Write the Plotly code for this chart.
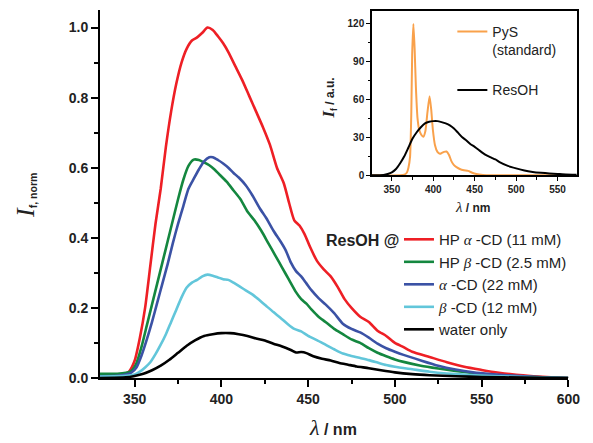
import plotly.graph_objects as go

# ---------------- data ----------------
red_nm = [330, 340, 345, 347, 350, 353, 356, 359, 362, 365, 368, 371, 374, 377, 380, 383, 386, 389, 392,
          395, 398, 401, 404, 408, 412, 416, 420, 424, 428, 432, 436, 439, 442, 445, 448, 451, 455, 459,
          463, 467, 471, 475, 480, 485, 490, 495, 500, 505, 510, 520, 530, 540, 550, 560, 570, 580, 590, 600]
red_i = [0.008, 0.009, 0.013, 0.02, 0.05, 0.115, 0.20, 0.32, 0.44, 0.54, 0.66, 0.76, 0.84, 0.90, 0.94, 0.963,
         0.972, 0.985, 1.0, 0.993, 0.975, 0.955, 0.93, 0.89, 0.85, 0.805, 0.76, 0.715, 0.665, 0.60, 0.555,
         0.50, 0.45, 0.435, 0.41, 0.375, 0.335, 0.31, 0.29, 0.26, 0.225, 0.20, 0.175, 0.16, 0.135, 0.12,
         0.10, 0.088, 0.075, 0.06, 0.045, 0.032, 0.023, 0.015, 0.009, 0.005, 0.002, 0.0]

green_nm = [330, 340, 345, 348, 351, 354, 357, 360, 363, 366, 369, 372, 375, 378, 381, 384, 387, 390, 393,
            396, 399, 403, 407, 411, 415, 419, 423, 427, 431, 435, 439, 443, 446, 449, 452, 456, 460, 465,
            470, 475, 480, 485, 490, 495, 500, 505, 515, 525, 535, 545, 555, 570, 585, 600]
green_i = [0.012, 0.012, 0.015, 0.02, 0.042, 0.09, 0.15, 0.21, 0.27, 0.33, 0.39, 0.45, 0.51, 0.565, 0.605,
           0.623, 0.622, 0.615, 0.607, 0.595, 0.58, 0.56, 0.535, 0.51, 0.475, 0.45, 0.42, 0.385, 0.35, 0.315,
           0.28, 0.245, 0.225, 0.212, 0.195, 0.175, 0.16, 0.14, 0.125, 0.11, 0.10, 0.085, 0.072, 0.062, 0.053,
           0.046, 0.035, 0.027, 0.02, 0.014, 0.009, 0.005, 0.002, 0.0]

blue_nm = [330, 340, 345, 348, 351, 354, 357, 360, 363, 366, 369, 372, 375, 378, 381, 384, 387, 390, 393,
           395, 398, 401, 404, 407, 410, 414, 418, 422, 426, 430, 434, 437, 440, 443, 446, 449, 452, 456,
           460, 465, 470, 475, 480, 485, 490, 495, 500, 505, 515, 525, 535, 545, 555, 570, 585, 600]
blue_i = [0.005, 0.006, 0.01, 0.015, 0.03, 0.065, 0.11, 0.16, 0.215, 0.27, 0.325, 0.385, 0.44, 0.49, 0.54,
          0.568, 0.595, 0.618, 0.63, 0.63, 0.622, 0.612, 0.60, 0.585, 0.572, 0.55, 0.52, 0.485, 0.455,
          0.42, 0.39, 0.365, 0.33, 0.305, 0.29, 0.27, 0.25, 0.228, 0.21, 0.185, 0.155, 0.14, 0.13, 0.115,
          0.098, 0.085, 0.075, 0.066, 0.05, 0.035, 0.024, 0.016, 0.011, 0.006, 0.002, 0.0]

cyan_nm = [330, 345, 350, 353, 356, 359, 362, 365, 368, 371, 374, 377, 380, 383, 386, 389, 392, 395, 398,
           401, 404, 407, 410, 414, 418, 422, 426, 430, 434, 438, 442, 446, 450, 455, 460, 465, 470, 475,
           480, 485, 490, 495, 500, 510, 520, 530, 545, 560, 580, 600]
cyan_i = [0.004, 0.006, 0.01, 0.018, 0.03, 0.045, 0.068, 0.095, 0.125, 0.16, 0.195, 0.23, 0.258, 0.272,
          0.28, 0.29, 0.295, 0.292, 0.287, 0.282, 0.28, 0.272, 0.263, 0.25, 0.238, 0.222, 0.205, 0.188,
          0.172, 0.155, 0.14, 0.133, 0.12, 0.108, 0.095, 0.082, 0.07, 0.063, 0.057, 0.051, 0.044, 0.037,
          0.032, 0.025, 0.018, 0.013, 0.008, 0.005, 0.002, 0.0]

water_nm = [330, 345, 350, 355, 360, 365, 370, 375, 380, 385, 390, 395, 400, 405, 410, 415, 420, 425, 430,
            435, 440, 443, 446, 449, 453, 458, 463, 468, 473, 478, 485, 492, 500, 510, 520, 535, 550, 575, 600]
water_i = [0.0, 0.002, 0.006, 0.012, 0.022, 0.035, 0.052, 0.072, 0.092, 0.108, 0.12, 0.125, 0.128, 0.128,
           0.125, 0.12, 0.113, 0.107, 0.098, 0.09, 0.08, 0.073, 0.074, 0.071, 0.062, 0.055, 0.05, 0.043,
           0.038, 0.033, 0.028, 0.022, 0.016, 0.011, 0.008, 0.005, 0.003, 0.001, 0.0]

# inset
resoh_nm = [326, 340, 345, 350, 355, 360, 365, 370, 375, 380, 385, 390, 395, 400, 405, 410, 415, 420, 425,
            430, 435, 440, 445, 450, 455, 460, 465, 470, 475, 480, 490, 500, 510, 520, 530, 540, 550, 560, 573]
resoh_i = [0, 0.3, 1, 2.3, 5, 9.5, 15, 22, 29, 34, 38, 41, 42.3, 42.8, 42.8, 42, 41, 39.5, 37, 33.5, 30,
           27.5, 24.5, 22.5, 20, 17.5, 15.5, 14, 12.5, 10.5, 7.5, 5.5, 3.8, 2.7, 2, 1.5, 1.1, 0.7, 0.5]

pys_nm = [326, 360, 365, 368, 370, 372, 373.5, 374.5, 376, 377.5, 379, 381, 383, 385.5, 388, 390.5, 393,
          395.5, 397.5, 399.5, 402, 405, 408, 410, 413, 416, 419, 422, 425, 428, 432, 437, 442, 447, 452,
          460, 470, 550]
pys_i = [0, 0, 0.5, 2, 6, 15, 50, 95, 119.5, 100, 70, 45, 36, 32, 30.5, 35, 50, 62.5, 52, 36, 24, 18.5, 17,
         17.5, 18.5, 18.8, 16, 11, 8, 6.5, 5, 4, 3.5, 2, 1, 0.3, 0, 0]

SANS = "Liberation Sans, Arial, sans-serif"
SERIF = "Liberation Serif"
ALPHA = "<span style=\"font-family:%s\"><i>α</i></span>" % SERIF
BETA = "<span style=\"font-family:%s\"><i>β</i></span>" % SERIF

main_series = [
    ("HP " + ALPHA + " -CD (11 mM)", red_nm, red_i, "#EE1F25"),
    ("HP " + BETA + " -CD (2.5 mM)", green_nm, green_i, "#14873F"),
    (ALPHA + " -CD (22 mM)", blue_nm, blue_i, "#3B52A5"),
    (BETA + " -CD (12 mM)", cyan_nm, cyan_i, "#62C6DA"),
    ("water only", water_nm, water_i, "#000000"),
]

inset_series = [
    ("PyS<br>(standard)", pys_nm, pys_i, "#F9A14B"),
    ("ResOH", resoh_nm, resoh_i, "#000000"),
]

fig = go.Figure()
for name, xs, ys, col in main_series:
    fig.add_trace(go.Scatter(x=xs, y=ys, mode="lines", name=name,
                             line=dict(color=col, width=2.6, shape="spline", smoothing=0.6),
                             legend="legend"))
for i, (name, xs, ys, col) in enumerate(inset_series):
    fig.add_trace(go.Scatter(x=xs, y=ys, mode="lines", name=name, xaxis="x2", yaxis="y2",
                             line=dict(color=col, width=2, shape="spline", smoothing=0.5),
                             legend="legend2", legendgroup="g%d" % i))

axis_common = dict(showline=True, linecolor="black", ticks="outside", tickcolor="black",
                   showgrid=False, zeroline=False, automargin=False)

fig.update_layout(
    template="none",
    width=593, height=443,
    margin=dict(l=100, r=10, t=10, b=65, pad=0, autoexpand=False),
    plot_bgcolor="white", paper_bgcolor="white",
    font=dict(family=SANS, color="#222222"),
    xaxis=dict(axis_common, domain=[0, 0.9696], range=[330, 600], dtick=50, tick0=350,
               linewidth=2, tickwidth=2, ticklen=7,
               tickfont=dict(family=SANS, size=14, weight="bold", color="#222222"),
               minor=dict(dtick=25, tick0=350, ticks="outside", ticklen=4, tickwidth=2, tickcolor="black")),
    yaxis=dict(axis_common, domain=[0, 1], range=[0, 1.05], dtick=0.2, tickformat=".1f",
               linewidth=2, tickwidth=2, ticklen=7,
               tickfont=dict(family=SANS, size=14, weight="bold", color="#222222"),
               minor=dict(dtick=0.1, ticks="outside", ticklen=4, tickwidth=2, tickcolor="black")),
    xaxis2=dict(axis_common, domain=[0.5631, 0.9876], range=[326, 573.5], anchor="y2",
                dtick=50, tick0=350, mirror=True, linewidth=1.5, tickwidth=1.2, ticklen=4,
                tickfont=dict(family=SANS, size=10, weight="bold", color="#222222"),
                minor=dict(dtick=25, tick0=350, ticks="outside", ticklen=2.5, tickwidth=1, tickcolor="black")),
    yaxis2=dict(axis_common, domain=[0.5508, 0.998], range=[0, 130], anchor="x2",
                dtick=30, mirror=True, linewidth=1.5, tickwidth=1.2, ticklen=4,
                tickfont=dict(family=SANS, size=10, weight="bold", color="#222222"),
                minor=dict(dtick=15, ticks="outside", ticklen=2.5, tickwidth=1, tickcolor="black")),
    legend=dict(x=0.619, y=0.421, xanchor="left", yanchor="top", bgcolor="rgba(0,0,0,0)",
                font=dict(family=SANS, size=15, color="#222222"), tracegroupgap=0,
                itemwidth=30, traceorder="normal"),
    legend2=dict(x=0.7295, y=0.984, xanchor="left", yanchor="top", bgcolor="rgba(0,0,0,0)",
                 font=dict(family=SANS, size=14, color="#222222"), tracegroupgap=19,
                 itemwidth=30, valign="top", traceorder="grouped"),
    showlegend=True,
)

annotations = [
    dict(text="<span style=\"font-family:%s;font-size:26px;font-weight:normal\"><i>I</i></span><sub>f, norm</sub>" % SERIF,
         x=-0.153, y=0.495, xref="paper", yref="paper", xanchor="center", yanchor="middle",
         textangle=-90, showarrow=False,
         font=dict(family=SANS, size=15, weight="bold", color="#222222")),
    dict(text="<span style=\"font-family:%s;font-size:22px;font-weight:normal\"><i>λ</i></span> / nm" % SERIF,
         x=0.482, y=-0.135, xref="paper", yref="paper", xanchor="center", yanchor="middle",
         showarrow=False, font=dict(family=SANS, size=16, weight="bold", color="#222222")),
    dict(text="<span style=\"font-family:%s;font-size:15px;font-weight:normal\"><i>λ</i></span> / nm" % SERIF,
         x=0.772, y=0.465, xref="paper", yref="paper", xanchor="center", yanchor="middle",
         showarrow=False, font=dict(family=SANS, size=12, weight="bold", color="#222222")),
    dict(text="<span style=\"font-family:%s;font-size:17px\"><i>I</i></span><sub>f</sub> / a.u." % SERIF,
         x=0.474, y=0.762, xref="paper", yref="paper", xanchor="center", yanchor="middle",
         textangle=-90, showarrow=False,
         font=dict(family=SANS, size=12, weight="bold", color="#222222")),
    dict(text="ResOH @", x=0.5445, y=0.375, xref="paper", yref="paper", xanchor="center", yanchor="middle",
         showarrow=False, font=dict(family=SANS, size=16, weight="bold", color="#222222")),
]
fig.update_layout(annotations=annotations)

fig.write_html("out.html", config={"displayModeBar": False},
               post_script="document.body.style.margin='0';document.body.style.overflow='hidden';")
